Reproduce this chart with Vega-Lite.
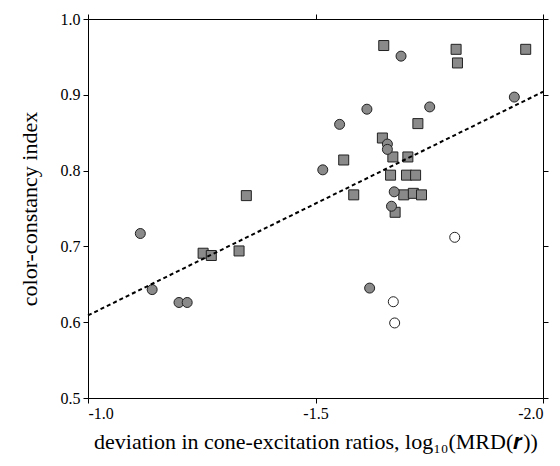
{
  "$schema": "https://vega.github.io/schema/vega-lite/v6.json",
  "width": 455,
  "height": 379,
  "autosize": {"type": "none"},
  "padding": {"left": 88, "top": 19, "right": 17, "bottom": 68},
  "background": "white",
  "config": {
    "view": {"stroke": null},
    "axis": {
      "grid": false,
      "domainColor": "black",
      "domainWidth": 1,
      "tickColor": "black",
      "tickSize": 5,
      "tickWidth": 1,
      "labelFont": "Liberation Serif",
      "labelFontSize": 16,
      "labelColor": "black",
      "titleFont": "Liberation Serif",
      "titleFontSize": 22,
      "titleFontWeight": "normal",
      "titleColor": "black"
    }
  },
  "resolve": {"axis": {"x": "independent", "y": "independent"}},
  "layer": [
    {
      "data": {"values": [
        {"x": -1.650, "y": 0.965, "g": "square"},
        {"x": -1.809, "y": 0.960, "g": "square"},
        {"x": -1.812, "y": 0.942, "g": "square"},
        {"x": -1.962, "y": 0.960, "g": "square"},
        {"x": -1.725, "y": 0.862, "g": "square"},
        {"x": -1.647, "y": 0.843, "g": "square"},
        {"x": -1.670, "y": 0.818, "g": "square"},
        {"x": -1.703, "y": 0.818, "g": "square"},
        {"x": -1.562, "y": 0.814, "g": "square"},
        {"x": -1.665, "y": 0.794, "g": "square"},
        {"x": -1.700, "y": 0.794, "g": "square"},
        {"x": -1.720, "y": 0.794, "g": "square"},
        {"x": -1.348, "y": 0.767, "g": "square"},
        {"x": -1.584, "y": 0.768, "g": "square"},
        {"x": -1.694, "y": 0.768, "g": "square"},
        {"x": -1.715, "y": 0.770, "g": "square"},
        {"x": -1.733, "y": 0.768, "g": "square"},
        {"x": -1.675, "y": 0.745, "g": "square"},
        {"x": -1.253, "y": 0.691, "g": "square"},
        {"x": -1.271, "y": 0.688, "g": "square"},
        {"x": -1.332, "y": 0.694, "g": "square"},
        {"x": -1.688, "y": 0.951, "g": "circle"},
        {"x": -1.937, "y": 0.897, "g": "circle"},
        {"x": -1.613, "y": 0.881, "g": "circle"},
        {"x": -1.751, "y": 0.884, "g": "circle"},
        {"x": -1.553, "y": 0.861, "g": "circle"},
        {"x": -1.658, "y": 0.835, "g": "circle"},
        {"x": -1.658, "y": 0.828, "g": "circle"},
        {"x": -1.516, "y": 0.801, "g": "circle"},
        {"x": -1.673, "y": 0.772, "g": "circle"},
        {"x": -1.667, "y": 0.753, "g": "circle"},
        {"x": -1.115, "y": 0.717, "g": "circle"},
        {"x": -1.141, "y": 0.643, "g": "circle"},
        {"x": -1.200, "y": 0.626, "g": "circle"},
        {"x": -1.218, "y": 0.626, "g": "circle"},
        {"x": -1.619, "y": 0.645, "g": "circle"},
        {"x": -1.806, "y": 0.712, "g": "open"},
        {"x": -1.671, "y": 0.627, "g": "open"},
        {"x": -1.674, "y": 0.599, "g": "open"}
      ]},
      "mark": {"type": "point", "filled": true, "size": 100, "stroke": "#222222", "strokeWidth": 1, "opacity": 1},
      "encoding": {
        "x": {
          "field": "x", "type": "quantitative",
          "scale": {"domain": [-1, -2], "nice": false, "zero": false},
          "axis": {
            "orient": "bottom",
            "values": [-1, -1.5, -2],
            "labelExpr": "replace(format(datum.value, '.1f'), '\u2212', '-')",
            "labelPadding": 2,
            "title": "deviation in cone-excitation ratios, log\u2081\u2080(MRD(\ud835\udc93))",
            "titlePadding": 10
          }
        },
        "y": {
          "field": "y", "type": "quantitative",
          "scale": {"domain": [0.5, 1.0], "nice": false, "zero": false},
          "axis": {
            "orient": "left",
            "values": [0.5, 0.6, 0.7, 0.8, 0.9, 1.0],
            "format": ".1f",
            "labelPadding": 3,
            "title": "color-constancy index",
            "titlePadding": 19
          }
        },
        "shape": {
          "field": "g", "type": "nominal",
          "scale": {"domain": ["square", "circle", "open"], "range": ["square", "circle", "circle"]},
          "legend": null
        },
        "fill": {
          "field": "g", "type": "nominal",
          "scale": {"domain": ["square", "circle", "open"], "range": ["#8a8a8a", "#8a8a8a", "#ffffff"]},
          "legend": null
        }
      }
    },
    {
      "data": {"values": [
        {"x": -1.0, "y": 0.609},
        {"x": -2.0, "y": 0.904}
      ]},
      "mark": {"type": "line", "color": "black", "strokeWidth": 2, "strokeDash": [4, 3]},
      "encoding": {
        "x": {
          "field": "x", "type": "quantitative",
          "axis": {"orient": "top", "values": [-1, -1.5, -2], "labels": false, "title": null}
        },
        "y": {
          "field": "y", "type": "quantitative",
          "axis": {"orient": "right", "values": [0.5, 0.6, 0.7, 0.8, 0.9, 1.0], "labels": false, "title": null}
        }
      }
    }
  ]
}
